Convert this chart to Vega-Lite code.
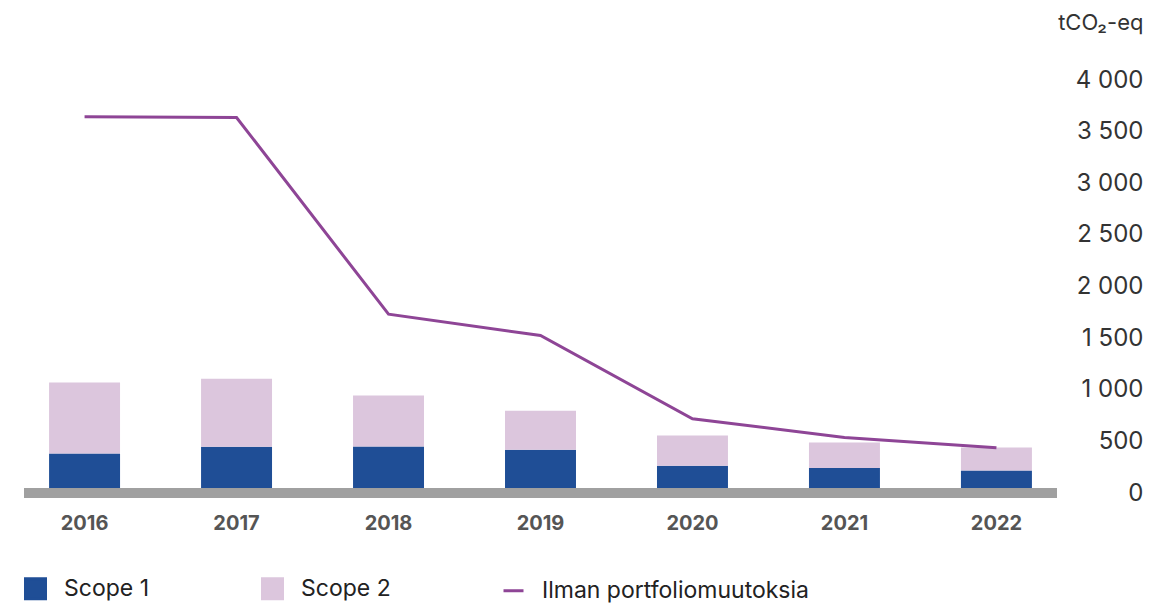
{
  "$schema": "https://vega.github.io/schema/vega-lite/v6.json",
  "autosize": {"type": "none"},
  "padding": {"left": 24, "top": 80, "right": 113, "bottom": 112},
  "width": 1033,
  "height": 413,
  "background": "white",
  "config": {"view": {"stroke": null}, "font": "Inter"},
  "data": {"values": [
    {"year": "2016", "series": "Scope 1", "value": 383},
    {"year": "2016", "series": "Scope 2", "value": 687},
    {"year": "2017", "series": "Scope 1", "value": 448},
    {"year": "2017", "series": "Scope 2", "value": 658},
    {"year": "2018", "series": "Scope 1", "value": 451},
    {"year": "2018", "series": "Scope 2", "value": 494},
    {"year": "2019", "series": "Scope 1", "value": 419},
    {"year": "2019", "series": "Scope 2", "value": 377},
    {"year": "2020", "series": "Scope 1", "value": 264},
    {"year": "2020", "series": "Scope 2", "value": 293},
    {"year": "2021", "series": "Scope 1", "value": 242},
    {"year": "2021", "series": "Scope 2", "value": 248},
    {"year": "2022", "series": "Scope 1", "value": 219},
    {"year": "2022", "series": "Scope 2", "value": 222},
    {"year": "2016", "series": "Ilman portfoliomuutoksia", "value": 3645},
    {"year": "2017", "series": "Ilman portfoliomuutoksia", "value": 3637},
    {"year": "2018", "series": "Ilman portfoliomuutoksia", "value": 1732},
    {"year": "2019", "series": "Ilman portfoliomuutoksia", "value": 1525},
    {"year": "2020", "series": "Ilman portfoliomuutoksia", "value": 719},
    {"year": "2021", "series": "Ilman portfoliomuutoksia", "value": 538},
    {"year": "2022", "series": "Ilman portfoliomuutoksia", "value": 438}
  ]},
  "encoding": {
    "x": {
      "field": "year", "type": "ordinal",
      "scale": {"paddingInner": 0.533, "paddingOuter": 0.165},
      "axis": {
        "title": null, "domain": false, "ticks": false, "labelAngle": 0,
        "labelFontSize": 20, "labelFontWeight": "bold", "labelColor": "#555555",
        "labelPadding": 20
      }
    },
    "y": {
      "type": "quantitative",
      "scale": {"domain": [0, 4000], "nice": false},
      "axis": {
        "orient": "right", "title": "tCO₂-eq", "titleAngle": 0, "titleAlign": "right",
        "titleBaseline": "middle", "titleX": 86, "titleY": -58, "titleFontSize": 22,
        "titleFontWeight": "normal", "titleColor": "#333333",
        "domain": false, "ticks": false, "grid": false,
        "values": [0, 500, 1000, 1500, 2000, 2500, 3000, 3500, 4000],
        "labelExpr": "replace(format(datum.value, ','), ',', ' ')",
        "labelAlign": "right", "labelPadding": 86, "labelFontSize": 24,
        "labelColor": "#333333"
      }
    },
    "color": {
      "field": "series", "type": "nominal",
      "scale": {
        "domain": ["Scope 1", "Scope 2", "Ilman portfoliomuutoksia"],
        "range": ["#1f4e96", "#dcc6dd", "#8e4596"]
      },
      "legend": {
        "title": null, "orient": "none", "direction": "horizontal",
        "legendX": 0, "legendY": 497, "padding": 0,
        "labelFontSize": 23, "labelColor": "#222222", "labelOffset": 17,
        "labelLimit": 500,
        "columnPadding": 106, "symbolSize": 400, "symbolOpacity": 1,
        "encode": {
          "symbols": {
            "update": {
              "shape": {"signal": "datum.value === 'Ilman portfoliomuutoksia' ? 'stroke' : 'square'"},
              "stroke": {"signal": "datum.value === 'Ilman portfoliomuutoksia' ? '#8e4596' : 'transparent'"},
              "strokeWidth": {"value": 3}
            }
          }
        }
      }
    }
  },
  "layer": [
    {
      "transform": [{"filter": "datum.series !== 'Ilman portfoliomuutoksia'"}],
      "mark": {"type": "bar"},
      "encoding": {
        "y": {"field": "value", "type": "quantitative", "stack": "zero"},
        "order": {"field": "series", "sort": "ascending"}
      }
    },
    {
      "mark": {"type": "rule", "color": "#a0a0a0", "strokeWidth": 9},
      "encoding": {"y": {"datum": 0}, "x": null, "color": null}
    },
    {
      "transform": [{"filter": "datum.series === 'Ilman portfoliomuutoksia'"}],
      "mark": {"type": "line", "strokeWidth": 3},
      "encoding": {"y": {"field": "value", "type": "quantitative"}}
    }
  ]
}
